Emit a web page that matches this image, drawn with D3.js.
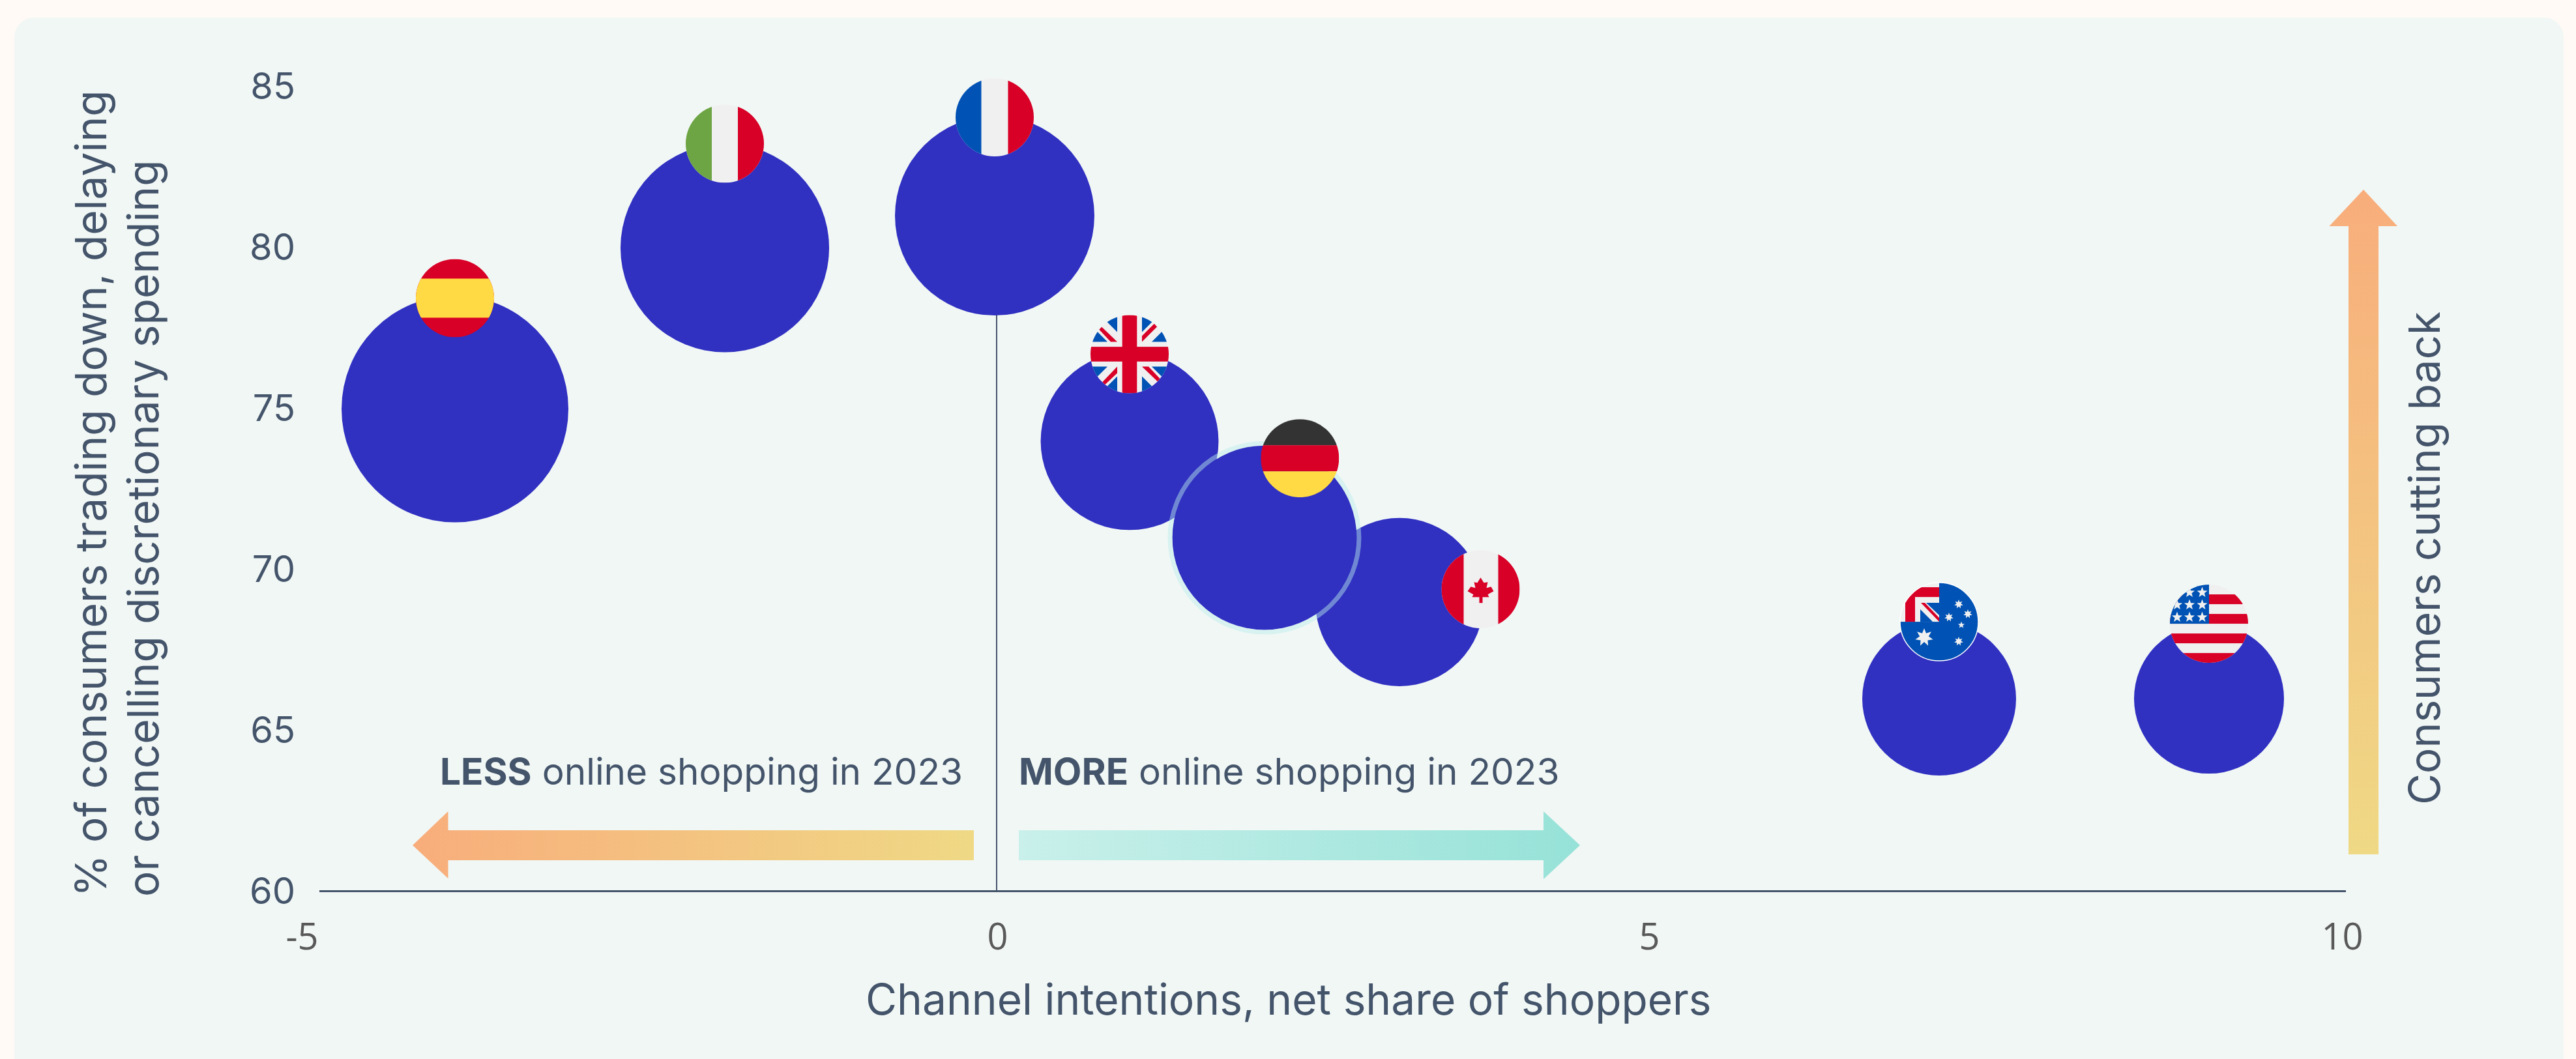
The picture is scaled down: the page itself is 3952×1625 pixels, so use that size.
<!DOCTYPE html>
<html>
<head>
<meta charset="utf-8">
<style>
  body { margin: 0; background: #fffaf6; }
  text { font-family: Inter, sans-serif; fill: #44546a; }
</style>
</head>
<body>
<svg id="mysvg"></svg>
<script src="https://d3js.org/d3.v7.min.js"></script>
<script>
  var width = 3952, height = 1625;

  // values
  var countries = ["Spain", "Italy", "France", "UK", "Canada", "Germany", "Australia", "USA"];
  var intentions = [-4, -2, 0, 1, 3, 2, 7, 9];
  var cuttingBack = [75, 80, 81, 74, 69, 71, 66, 66];
  var marketSize = [100, 84.6, 77.3, 61.5, 55, 66.1, 46, 43.7];

  var xTicks = [-5, 0, 5, 10];
  var yTicks = [60, 65, 70, 75, 80, 85];
  // the x labels do not sit exactly under their tick in the original
  var xTickShift = { "-5": -28, "0": 4, "5": -31, "10": -3 };

  // where the flag sits on the rim of each bubble, clockwise from the top
  var flagAngle = [0, 0, 0, 0, 81, 24, 0, 0];
  var flagInset = [4, 0, 2, 3, 3, 8, 0, 0];

  var ink = "#44546a";
  var red = "#d80027", blue = "#0052b4", white = "#f0f0f0", yellow = "#ffda44", green = "#6da544", black = "#333333";

  var svg = d3.select("#mysvg").attr("width", width).attr("height", height).style("display", "block");

  svg.append("rect")
    .attr("x", 22).attr("y", 27)
    .attr("width", 3911).attr("height", 1650)
    .attr("rx", 30)
    .attr("fill", "#f1f7f5");

  var xScale = d3.scaleLinear().domain([-5, 10]).range([491, 3596]);
  var yScale = d3.scaleLinear().domain([60, 85]).range([1368.5, 133.5]);
  var rScale = d3.scaleSqrt().domain([0, 100]).range([0, 174]);

  var defs = svg.append("defs");

  function gradient(id, x1, y1, x2, y2, from, to) {
    var g = defs.append("linearGradient").attr("id", id)
      .attr("gradientUnits", "userSpaceOnUse")
      .attr("x1", x1).attr("y1", y1).attr("x2", x2).attr("y2", y2);
    g.append("stop").attr("offset", 0).attr("stop-color", from);
    g.append("stop").attr("offset", 1).attr("stop-color", to);
  }
  gradient("lessGrad", 633, 0, 1494, 0, "#f8ad7b", "#efd985");
  gradient("moreGrad", 1563, 0, 2424, 0, "#c9f0ea", "#96e2d8");
  gradient("upGrad", 0, 291, 0, 1311, "#f8ad7b", "#efd985");

  // axes
  var xAxis = d3.axisBottom(xScale).tickValues(xTicks).tickSize(0).tickPadding(49)
    .tickFormat(function(d) { return String(d); });
  var xG = svg.append("g").attr("transform", "translate(0," + yScale(60) + ")").call(xAxis);
  xG.select(".domain").remove();
  xG.selectAll("text")
    .attr("dx", function(d) { return xTickShift[d]; })
    .style("font-family", "'Open Sans', sans-serif")
    .style("font-size", "56px")
    .style("fill", "#595959");

  var yAxis = d3.axisLeft(yScale).tickValues(yTicks).tickSize(0).tickPadding(0);
  var yG = svg.append("g").attr("transform", "translate(453,-2)").call(yAxis);
  yG.select(".domain").remove();
  yG.selectAll("text")
    .attr("dy", "0.36em")
    .style("font-family", "Inter, sans-serif")
    .style("font-size", "56px")
    .style("font-weight", 400)
    .style("fill", ink);

  svg.append("line")
    .attr("x1", xScale(-5) - 1).attr("x2", xScale(10) + 3)
    .attr("y1", yScale(60) - 1).attr("y2", yScale(60) - 1)
    .attr("stroke", ink).attr("stroke-width", 3);

  // zero line, runs up behind the French bubble
  svg.append("line")
    .attr("x1", xScale(0) + 3).attr("x2", xScale(0) + 3)
    .attr("y1", yScale(60) - 1).attr("y2", yScale(81))
    .attr("stroke", ink).attr("stroke-width", 2);

  // direction arrows
  svg.append("path").attr("fill", "url(#lessGrad)")
    .attr("d", "M633,1297L687.5,1245V1274H1494V1320H687.5V1348Z");
  svg.append("path").attr("fill", "url(#moreGrad)")
    .attr("d", "M1563,1274H2368V1245L2424,1297L2368,1349V1320H1563Z");
  svg.append("path").attr("fill", "url(#upGrad)")
    .attr("d", "M3626,291L3678,347H3649V1311H3603V347H3573.5Z");

  // bubbles
  var idx = d3.range(countries.length);
  svg.append("g").selectAll("circle")
    .data(idx)
    .enter().append("circle")
    .attr("cx", function(i) { return xScale(intentions[i]); })
    .attr("cy", function(i) { return yScale(cuttingBack[i]); })
    .attr("r", function(i) { return rScale(marketSize[i]); })
    .attr("fill", "#3030c1");

  // Germany has a pale ring outside its fill
  var de = countries.indexOf("Germany");
  svg.append("circle")
    .attr("cx", xScale(intentions[de])).attr("cy", yScale(cuttingBack[de]))
    .attr("r", rScale(marketSize[de]) + 3.5)
    .attr("fill", "none")
    .attr("stroke", "rgb(184,236,234)")
    .attr("stroke-opacity", 0.47)
    .attr("stroke-width", 7);

  // flags, every one drawn in a 120px circle around 0,0
  var R = 60;
  defs.append("clipPath").attr("id", "flagClip").append("circle").attr("r", R);

  function rect(g, x, y, w, h, c) {
    g.append("rect").attr("x", x).attr("y", y).attr("width", w).attr("height", h).attr("fill", c);
  }
  function poly(g, pts, c) {
    g.append("polygon").attr("points", pts.join(" ")).attr("fill", c);
  }
  function star(g, cx, cy, r, n, c) {
    var pts = d3.range(n * 2).map(function(k) {
      var a = Math.PI * k / n - Math.PI / 2;
      var rr = k % 2 ? r * (n == 5 ? 0.42 : 0.5) : r;
      return [cx + rr * Math.cos(a), cy + rr * Math.sin(a)];
    });
    poly(g, pts, c);
  }

  var flags = {
    Spain: function(g) {
      rect(g, -R, -R, 120, 120, red);
      rect(g, -R, -30, 120, 60, yellow);
    },
    Italy: function(g) {
      rect(g, -R, -R, 120, 120, white);
      rect(g, -R, -R, 40, 120, green);
      rect(g, 20, -R, 40, 120, red);
    },
    France: function(g) {
      rect(g, -R, -R, 120, 120, white);
      rect(g, -R, -R, 39.5, 120, blue);
      rect(g, 20.5, -R, 39.5, 120, red);
    },
    Germany: function(g) {
      rect(g, -R, -R, 120, 40, black);
      rect(g, -R, -20, 120, 40, red);
      rect(g, -R, 20, 120, 40, yellow);
    },
    Canada: function(g) {
      rect(g, -R, -R, 120, 120, white);
      rect(g, -R, -R, 34, 120, red);
      rect(g, 27, -R, 33, 120, red);
      poly(g, [[0,-18],[-5,-10],[-10,-11],[-8,-2],[-15,-4],[-20,3],[-11,8],[-13,12],[-2,12],[-2,21],[3,21],[3,12],[13,12],[11,8],[20,3],[16,-4],[9,-2],[11,-11],[5,-10]], red);
    },
    UK: function(g) {
      rect(g, -R, -R, 120, 120, white);
      [[-1,-1],[1,-1],[-1,1],[1,1]].forEach(function(s) {
        poly(g, [[19,34],[19,62],[47,62]].map(function(p) { return [p[0]*s[0], p[1]*s[1]]; }), blue);
        poly(g, [[34,19],[62,19],[62,47]].map(function(p) { return [p[0]*s[0], p[1]*s[1]]; }), blue);
      });
      poly(g, [[-47,-38],[-43,-42],[-19,-19],[-29,-19]], red);
      poly(g, [[19,-19],[19,-28],[38,-47],[42,-42]], red);
      poly(g, [[-19,19],[-19,29],[-38,47],[-42,43]], red);
      poly(g, [[19,19],[29,19],[47,38],[43,42]], red);
      rect(g, -11.3, -R, 22.6, 120, red);
      rect(g, -R, -11.3, 120, 22.6, red);
    },
    Australia: function(g) {
      rect(g, -R, -R, 120, 120, blue);
      rect(g, -R, -R, R, R, white);
      rect(g, -52, -53, 15, 53, red);
      rect(g, -52, -53, 52, 15, red);
      poly(g, [[-29,-19],[-29,0],[-10,0]], blue);
      poly(g, [[-20,-29],[0,-29],[0,-10]], blue);
      poly(g, [[-28,-29],[-22,-29],[0,-6],[0,0]], red);
      star(g, -23, 24, 14, 7, white);
      star(g, 30, -27, 7, 7, white);
      star(g, 44, -12, 7, 7, white);
      star(g, 15, -7, 7, 7, white);
      star(g, 34, 5, 5.5, 5, white);
      star(g, 30, 30, 7, 7, white);
    },
    USA: function(g) {
      rect(g, -R, -R, 120, 120, white);
      [-45, -15, 15, 45].forEach(function(y) { rect(g, -R, y, 120, 15, red); });
      rect(g, -R, -R, R, R, blue);
      [[-30,-48],[-10.5,-48],[-49,-29],[-30,-29],[-10.5,-29],[-49,-10],[-30,-10],[-10.5,-10]].forEach(function(p) {
        star(g, p[0], p[1], 8.5, 5, white);
      });
    }
  };

  idx.forEach(function(i) {
    var a = flagAngle[i] * Math.PI / 180;
    var d = rScale(marketSize[i]) - flagInset[i];
    var fx = xScale(intentions[i]) + d * Math.sin(a);
    var fy = yScale(cuttingBack[i]) - d * Math.cos(a);
    var g = svg.append("g").attr("transform", "translate(" + fx + "," + fy + ")");
    flags[countries[i]](g.append("g").attr("clip-path", "url(#flagClip)"));
    if (countries[i] == "Australia") {
      g.append("circle").attr("r", R).attr("fill", "none").attr("stroke", "#fff").attr("stroke-width", 1.5);
    }
  });

  // titles and notes
  var titleSize = "65.8px";
  svg.append("text")
    .attr("transform", "translate(163,1376) rotate(-90)")
    .style("font-size", titleSize)
    .text("% of consumers trading down, delaying");
  svg.append("text")
    .attr("transform", "translate(243,1376) rotate(-90)")
    .style("font-size", titleSize)
    .text("or cancelling discretionary spending");
  svg.append("text")
    .attr("x", 1328).attr("y", 1557)
    .style("font-size", titleSize)
    .text("Channel intentions, net share of shoppers");
  svg.append("text")
    .attr("transform", "translate(3743,1235) rotate(-90)")
    .style("font-size", titleSize)
    .text("Consumers cutting back");

  function note(x, strong, rest) {
    var t = svg.append("text").attr("x", x).attr("y", 1204)
      .style("font-size", "56.7px");
    t.append("tspan").style("font-weight", 700).text(strong);
    t.append("tspan").text(rest);
  }
  note(675, "LESS", " online shopping in 2023");
  note(1563, "MORE", " online shopping in 2023");
</script>
</body>
</html>
